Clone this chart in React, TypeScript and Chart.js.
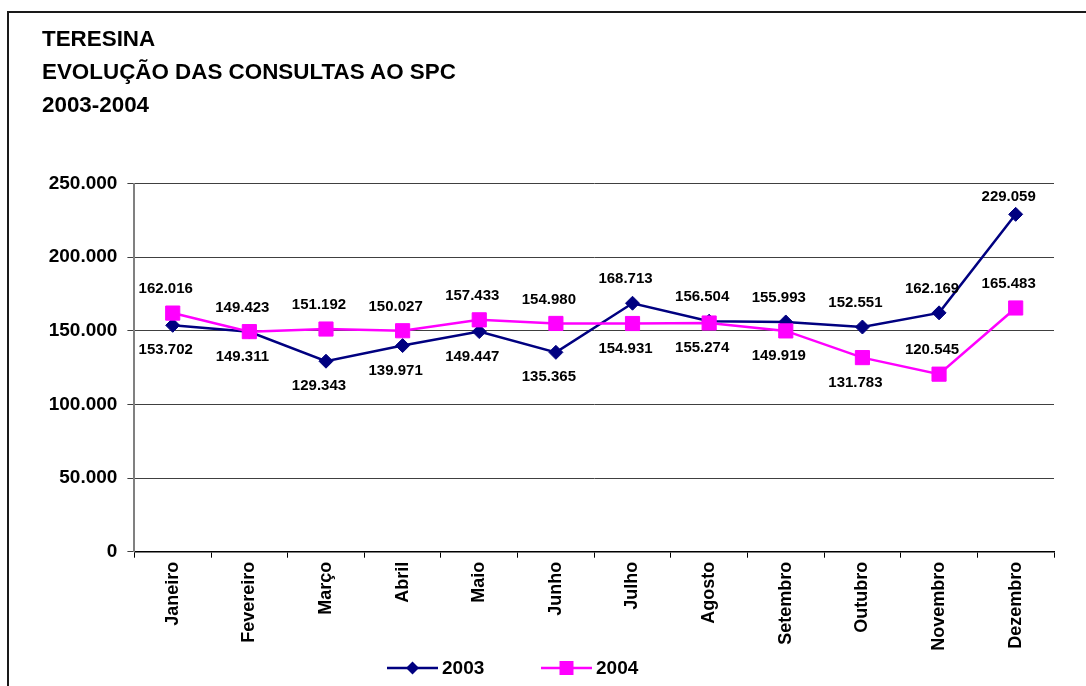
import React, { useEffect, useRef } from "react";
import { Chart, registerables } from "chart.js";

Chart.register(...registerables);

const months = ["Janeiro", "Fevereiro", "Março", "Abril", "Maio", "Junho", "Julho", "Agosto", "Setembro", "Outubro", "Novembro", "Dezembro"];
const series2003 = [153702, 149311, 129343, 139971, 149447, 135365, 168713, 156504, 155993, 152551, 162169, 229059];
const series2004 = [162016, 149423, 151192, 150027, 157433, 154980, 154931, 155274, 149919, 131783, 120545, 165483];
const yTicks = [0, 50000, 100000, 150000, 200000, 250000];
const seriesNames = ["2003", "2004"];
const titleLines = ["TERESINA", "EVOLUÇÃO DAS CONSULTAS AO SPC", "2003-2004"];

const FONT = "'Liberation Sans', Arial, Helvetica, sans-serif";
const NAVY = "#000080";
const MAGENTA = "#FF00FF";

const fmt = (v: number) => String(Math.round(v)).replace(/\B(?=(\d{3})+(?!\d))/g, ".");

const labelPlugin = {
  id: "valueLabels",
  afterDatasetsDraw(chart: any) {
    const ctx = chart.ctx;
    const area = chart.chartArea;
    const sets = chart.data.datasets;
    ctx.save();
    ctx.font = `bold 15px ${FONT}`;
    ctx.fillStyle = "#000";
    ctx.textAlign = "center";
    ctx.textBaseline = "middle";
    sets.forEach((ds: any, d: number) => {
      const other = sets[1 - d].data as number[];
      const meta = chart.getDatasetMeta(d);
      meta.data.forEach((pt: any, j: number) => {
        const v = ds.data[j] as number;
        const o = other[j];
        const above = v >= o || o - v > 40000;
        let y = above ? pt.y - 24 : pt.y + 25;
        if (above) y = Math.max(y, area.top + 13);
        ctx.fillText(fmt(v), pt.x - 7, y);
      });
    });
    ctx.restore();
  },
};

const legendPlugin = {
  id: "customLegend",
  afterDraw(chart: any) {
    const ctx = chart.ctx;
    const items = [
      { name: seriesNames[0], color: NAVY, shape: "diamond", x0: 387 },
      { name: seriesNames[1], color: MAGENTA, shape: "square", x0: 541 },
    ];
    const y = 668;
    ctx.save();
    items.forEach((it) => {
      ctx.strokeStyle = it.color;
      ctx.fillStyle = it.color;
      ctx.lineWidth = 2.5;
      ctx.beginPath();
      ctx.moveTo(it.x0, y);
      ctx.lineTo(it.x0 + 51, y);
      ctx.stroke();
      const cx = it.x0 + 25.5;
      ctx.beginPath();
      if (it.shape === "diamond") {
        ctx.moveTo(cx - 6.5, y);
        ctx.lineTo(cx, y - 6.5);
        ctx.lineTo(cx + 6.5, y);
        ctx.lineTo(cx, y + 6.5);
        ctx.closePath();
      } else {
        ctx.rect(cx - 7, y - 7, 14, 14);
      }
      ctx.fill();
      ctx.fillStyle = "#000";
      ctx.font = `bold 19px ${FONT}`;
      ctx.textAlign = "left";
      ctx.textBaseline = "middle";
      ctx.fillText(it.name, it.x0 + 55, y + 1);
    });
    ctx.restore();
  },
};

export default function App() {
  const ref = useRef<HTMLCanvasElement | null>(null);

  useEffect(() => {
    if (!ref.current) return;
    const chart = new Chart(ref.current, {
      type: "line",
      data: {
        labels: months,
        datasets: [
          {
            label: seriesNames[0],
            data: series2003,
            borderColor: NAVY,
            backgroundColor: NAVY,
            borderWidth: 2.5,
            pointStyle: "rectRot",
            pointRadius: 7,
            pointBorderWidth: 1,
            pointBackgroundColor: NAVY,
            pointBorderColor: NAVY,
            tension: 0,
            order: 1,
          },
          {
            label: seriesNames[1],
            data: series2004,
            borderColor: MAGENTA,
            backgroundColor: MAGENTA,
            borderWidth: 2.5,
            pointStyle: "rect",
            pointRadius: 10,
            pointBorderWidth: 1,
            pointBackgroundColor: MAGENTA,
            pointBorderColor: MAGENTA,
            tension: 0,
            order: 0,
          },
        ],
      },
      options: {
        animation: false,
        responsive: false,
        devicePixelRatio: 1,
        layout: { padding: { top: 183.5, right: 32, bottom: 0, left: 0 } },
        plugins: {
          legend: { display: false },
          title: { display: false },
          tooltip: { enabled: false },
        },
        scales: {
          x: {
            offset: true,
            grid: { offset: true, drawOnChartArea: false, drawTicks: true, tickLength: 6, color: "#000", lineWidth: 1 },
            border: { display: true, color: "#000", width: 1.5 },
            ticks: {
              autoSkip: false,
              maxRotation: 90,
              minRotation: 90,
              padding: 4,
              color: "#000",
              font: { family: FONT, size: 18, weight: "bold" },
            },
            afterFit: (s: any) => {
              s.height = 134.3;
            },
          },
          y: {
            min: 0,
            max: 250000,
            afterBuildTicks: (s: any) => {
              s.ticks = yTicks.map((v) => ({ value: v }));
            },
            grid: { color: "#404040", lineWidth: 1, tickLength: 7, drawTicks: true },
            border: { display: true, color: "#808080", width: 2 },
            ticks: {
              padding: 10,
              color: "#000",
              font: { family: FONT, size: 19, weight: "bold" },
              callback: (v: any) => fmt(Number(v)),
            },
            afterFit: (s: any) => {
              s.width = 134.4;
            },
          },
        },
      } as any,
      plugins: [labelPlugin, legendPlugin],
    });
    return () => chart.destroy();
  }, []);

  return (
    <div style={{ position: "fixed", left: 0, top: 0, width: 1086, height: 686, background: "#fff", overflow: "hidden" }}>
      <div
        style={{
          position: "absolute",
          left: 7,
          top: 11,
          width: 1100,
          height: 700,
          borderLeft: "2px solid #1a1a1a",
          borderTop: "2px solid #1a1a1a",
        }}
      />
      <canvas ref={ref} width={1086} height={686} style={{ position: "absolute", left: 0, top: 0, width: 1086, height: 686 }} />
      <div
        style={{
          position: "absolute",
          left: 42,
          top: 22,
          fontFamily: FONT,
          fontWeight: "bold",
          fontSize: 22.4,
          lineHeight: "33px",
          color: "#000",
          whiteSpace: "nowrap",
        }}
      >
        {titleLines.map((t) => (
          <div key={t}>{t}</div>
        ))}
      </div>
    </div>
  );
}
